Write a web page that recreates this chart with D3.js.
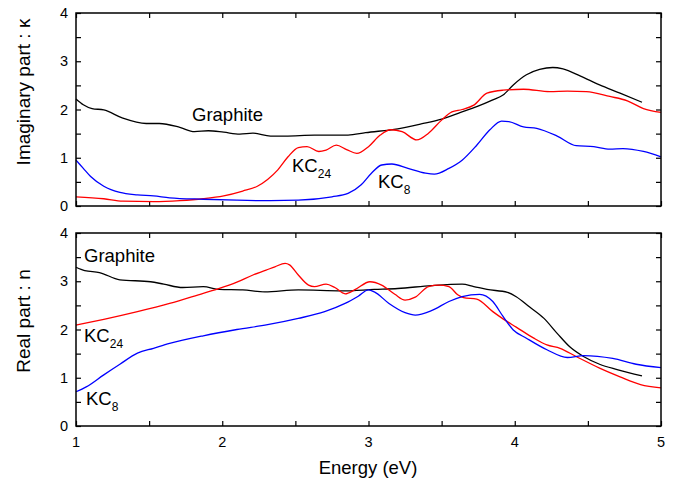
<!DOCTYPE html>
<html>
<head>
<meta charset="utf-8">
<script src="https://cdn.jsdelivr.net/npm/d3@7"></script>
<style>
  body { margin: 0; background: #fff; }
  svg { font-family: "Liberation Sans", Arial, sans-serif; }
  .axis path, .axis line { stroke: #000; }
</style>
</head>
<body>
<div id="wrapper"></div>
<script>
// energy (eV) / value pairs
const kappaGraphite = [[1.00,2.22],[1.05,2.10],[1.11,2.02],[1.19,1.99],[1.32,1.82],[1.48,1.71],[1.57,1.71],[1.71,1.63],[1.81,1.54],[1.905,1.56],[2.01,1.53],[2.12,1.49],[2.21,1.51],[2.33,1.45],[2.43,1.45],[2.63,1.47],[2.86,1.47],[2.98,1.52],[3.20,1.60],[3.36,1.70],[3.50,1.80],[3.63,1.94],[3.74,2.06],[3.85,2.20],[3.92,2.30],[3.99,2.51],[4.08,2.72],[4.17,2.83],[4.26,2.87],[4.33,2.84],[4.45,2.69],[4.58,2.51],[4.72,2.34],[4.87,2.15]];
const kappaKC24 = [[1.00,0.19],[1.19,0.15],[1.32,0.10],[1.53,0.09],[1.71,0.11],[1.87,0.15],[2.01,0.21],[2.14,0.31],[2.24,0.41],[2.31,0.55],[2.38,0.75],[2.45,1.02],[2.52,1.21],[2.58,1.23],[2.66,1.13],[2.71,1.16],[2.78,1.26],[2.85,1.17],[2.92,1.09],[3.00,1.23],[3.08,1.47],[3.15,1.58],[3.23,1.54],[3.33,1.37],[3.41,1.51],[3.50,1.78],[3.57,1.95],[3.64,2.00],[3.72,2.09],[3.81,2.34],[3.92,2.40],[4.06,2.42],[4.24,2.37],[4.36,2.38],[4.49,2.37],[4.65,2.27],[4.77,2.18],[4.88,2.02],[5.00,1.94]];
const kappaKC8 = [[1.00,0.95],[1.05,0.78],[1.10,0.61],[1.19,0.41],[1.30,0.28],[1.42,0.23],[1.53,0.21],[1.64,0.17],[1.87,0.14],[2.10,0.12],[2.33,0.11],[2.52,0.12],[2.75,0.19],[2.86,0.26],[2.95,0.44],[3.02,0.68],[3.09,0.85],[3.16,0.87],[3.27,0.78],[3.39,0.68],[3.45,0.66],[3.55,0.78],[3.64,0.95],[3.74,1.26],[3.83,1.58],[3.91,1.76],[3.96,1.75],[4.06,1.64],[4.15,1.61],[4.29,1.45],[4.42,1.25],[4.54,1.23],[4.65,1.18],[4.74,1.19],[4.88,1.13],[5.00,1.02]];

const nGraphite = [[1.00,3.29],[1.06,3.22],[1.16,3.18],[1.30,3.03],[1.51,2.99],[1.60,2.94],[1.73,2.87],[1.87,2.89],[1.98,2.83],[2.14,2.82],[2.29,2.78],[2.52,2.82],[2.82,2.80],[3.04,2.83],[3.20,2.85],[3.43,2.91],[3.64,2.94],[3.72,2.89],[3.81,2.83],[3.95,2.77],[4.01,2.68],[4.10,2.47],[4.20,2.23],[4.29,1.92],[4.38,1.63],[4.47,1.44],[4.58,1.28],[4.70,1.17],[4.87,1.04]];
const nKC24 = [[1.00,2.09],[1.19,2.21],[1.42,2.37],[1.64,2.54],[1.87,2.75],[1.98,2.85],[2.10,2.98],[2.21,3.13],[2.30,3.23],[2.36,3.30],[2.43,3.37],[2.46,3.34],[2.52,3.13],[2.59,2.92],[2.63,2.89],[2.71,2.94],[2.77,2.87],[2.84,2.74],[2.91,2.83],[3.01,2.99],[3.09,2.92],[3.18,2.73],[3.25,2.61],[3.32,2.67],[3.41,2.89],[3.48,2.92],[3.55,2.89],[3.61,2.72],[3.65,2.66],[3.74,2.63],[3.85,2.37],[3.92,2.22],[4.01,2.05],[4.13,1.82],[4.22,1.68],[4.31,1.61],[4.42,1.44],[4.58,1.20],[4.72,1.02],[4.86,0.86],[5.00,0.79]];
const nKC8 = [[1.00,0.71],[1.07,0.81],[1.19,1.06],[1.30,1.28],[1.42,1.51],[1.53,1.61],[1.64,1.71],[1.87,1.87],[2.10,2.00],[2.31,2.10],[2.52,2.23],[2.70,2.37],[2.84,2.54],[2.93,2.69],[3.00,2.82],[3.04,2.78],[3.14,2.54],[3.25,2.35],[3.32,2.30],[3.43,2.39],[3.55,2.58],[3.64,2.68],[3.76,2.73],[3.85,2.58],[3.92,2.27],[3.99,1.99],[4.08,1.82],[4.22,1.58],[4.36,1.42],[4.47,1.46],[4.67,1.40],[4.83,1.28],[5.00,1.21]];

const xTicks = [1, 2, 3, 4, 5];
const yTicks = [0, 1, 2, 3, 4];

const dimension = {
    width: 677,
    height: 485,
    left: 76,
    right: 661,
    panels: [{ top: 13, bottom: 206, titleY: 92 }, { top: 233, bottom: 426, titleY: 321 }]
};

const svg = d3.select("#wrapper").append("svg")
    .attr("width", dimension.width)
    .attr("height", dimension.height);

const xScaler = d3.scaleLinear().domain([1, 5]).range([dimension.left, dimension.right]);

const colors = { graphite: "#000000", kc24: "#ff0000", kc8: "#0000ff" };

function drawPanel(p, series, yTitle, showXLabels) {
    const yScaler = d3.scaleLinear().domain([0, 4]).range([p.bottom, p.top]);
    const minorX = d3.range(1, 5.01, 0.5);
    const minorY = d3.range(0, 4.01, 0.5);
    const g = svg.append("g");

    // ticks inward on all four sides
    g.append("g").classed("axis", true)
        .attr("transform", `translate(0,${p.bottom})`)
        .call(d3.axisTop(xScaler).tickValues(minorX).tickSize(5).tickFormat(""))
        .call(a => a.select(".domain").remove());
    g.append("g").classed("axis", true)
        .attr("transform", `translate(0,${p.top})`)
        .call(d3.axisBottom(xScaler).tickValues(minorX).tickSize(5).tickFormat(""))
        .call(a => a.select(".domain").remove());
    g.append("g").classed("axis", true)
        .attr("transform", `translate(${dimension.left},0)`)
        .call(d3.axisRight(yScaler).tickValues(minorY).tickSize(5).tickFormat(""))
        .call(a => a.select(".domain").remove());
    g.append("g").classed("axis", true)
        .attr("transform", `translate(${dimension.right},0)`)
        .call(d3.axisLeft(yScaler).tickValues(minorY).tickSize(5).tickFormat(""))
        .call(a => a.select(".domain").remove());
    g.selectAll(".axis line").attr("stroke-width", 1.2);

    // y tick labels
    g.selectAll("text.ylab").data(yTicks).join("text")
        .attr("class", "ylab")
        .attr("x", dimension.left - 8)
        .attr("y", d => yScaler(d) + 5)
        .attr("text-anchor", "end")
        .attr("font-size", 14.5)
        .text(d => d);

    if (showXLabels) {
        g.selectAll("text.xlab").data(xTicks).join("text")
            .attr("class", "xlab")
            .attr("x", d => xScaler(d))
            .attr("y", p.bottom + 21)
            .attr("text-anchor", "middle")
            .attr("font-size", 14.5)
            .text(d => d);
    }

    // y title
    g.append("text")
        .attr("transform", `translate(30,${p.titleY}) rotate(-90)`)
        .attr("text-anchor", "middle")
        .attr("font-size", 19)
        .text(yTitle);

    const line = d3.line()
        .x(d => xScaler(d[0]))
        .y(d => yScaler(d[1]))
        .curve(d3.curveMonotoneX);

    series.forEach(s => {
        g.append("path")
            .datum(s.data)
            .attr("d", line)
            .attr("fill", "none")
            .attr("stroke", s.color)
            .attr("stroke-width", 1.3);
    });

    // frame
    g.append("rect")
        .attr("x", dimension.left)
        .attr("y", p.top)
        .attr("width", dimension.right - dimension.left)
        .attr("height", p.bottom - p.top)
        .attr("fill", "none")
        .attr("stroke", "#000")
        .attr("stroke-width", 1.5);
}

drawPanel(dimension.panels[0], [
    { data: kappaGraphite, color: colors.graphite },
    { data: kappaKC24, color: colors.kc24 },
    { data: kappaKC8, color: colors.kc8 }
], "Imaginary part : \u03ba", false);

drawPanel(dimension.panels[1], [
    { data: nGraphite, color: colors.graphite },
    { data: nKC24, color: colors.kc24 },
    { data: nKC8, color: colors.kc8 }
], "Real part : n", true);

svg.append("text")
    .attr("x", 368)
    .attr("y", 474)
    .attr("text-anchor", "middle")
    .attr("font-size", 18.5)
    .text("Energy (eV)");

// curve labels
function label(x, y, main, sub) {
    const t = svg.append("text")
        .attr("x", x)
        .attr("y", y)
        .attr("font-size", 18.5);
    t.append("tspan").text(main);
    if (sub) {
        t.append("tspan")
            .attr("dy", 6)
            .attr("font-size", 12)
            .text(sub);
    }
}

label(192, 121, "Graphite");
label(292, 172, "KC", "24");
label(378, 188, "KC", "8");
label(84, 262, "Graphite");
label(84, 342, "KC", "24");
label(86, 405, "KC", "8");
</script>
</body>
</html>
